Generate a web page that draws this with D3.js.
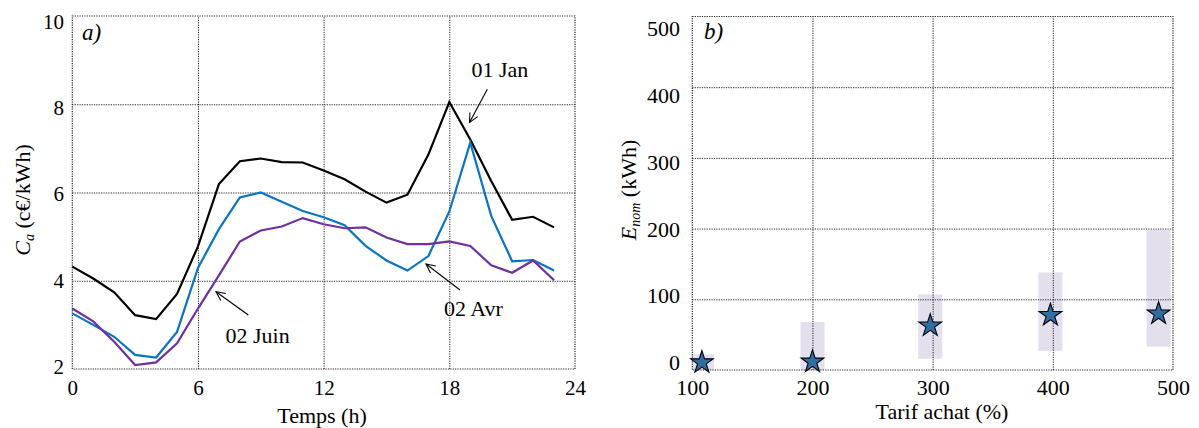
<!DOCTYPE html>
<html>
<head>
<meta charset="utf-8">
<script src="https://cdn.jsdelivr.net/npm/d3@7"></script>
</head>
<body style="margin:0">
<svg id="chart" width="1199" height="428"></svg>
<script>
// ---------- data: panel a ----------
const hours = d3.range(0, 24);
const jan01 = [4.32, 4.05, 3.74, 3.22, 3.13, 3.70, 4.78, 6.19, 6.71, 6.77, 6.69, 6.68,
               6.50, 6.30, 6.02, 5.77, 5.95, 6.86, 8.05, 7.20, 6.26, 5.38, 5.45, 5.21];
const avr02 = [3.26, 3.00, 2.73, 2.32, 2.26, 2.84, 4.29, 5.17, 5.89, 6.00, 5.79, 5.58,
               5.44, 5.26, 4.79, 4.46, 4.23, 4.56, 5.57, 7.13, 5.47, 4.44, 4.47, 4.23];
const juin02 = [3.37, 3.08, 2.62, 2.09, 2.15, 2.58, 3.37, 4.12, 4.89, 5.14, 5.23, 5.42,
                5.28, 5.19, 5.21, 4.98, 4.83, 4.83, 4.89, 4.79, 4.35, 4.18, 4.46, 4.01];
const seriesNames = ["01 Jan", "02 Avr", "02 Juin"];
const xTicksA = [0, 6, 12, 18, 24];
const yTicksA = [2, 4, 6, 8, 10];

// ---------- data: panel b ----------
const tarif = [108, 200, 298, 398, 488];
const enomMean = [12, 13, 64, 79, 81];
const enomLow = [-10, -10, 16, 27, 33];
const enomHigh = [22, 68, 107, 138, 198];
const xTicksB = [100, 200, 300, 400, 500];
const yTicksB = [0, 100, 200, 300, 400, 500];

const SERIF = '"Liberation Serif"';
const svg = d3.select("#chart");
const colors = { "01 Jan": "#000000", "02 Avr": "#0a74c4", "02 Juin": "#7030a0" };
const gridStyle = g => g.selectAll("line").attr("stroke", "#222").attr("stroke-width", 1).attr("stroke-dasharray", "1.2,1.2");
function addText(g, x, y, size, str) {
  return g.append("text").style("font-family", SERIF).attr("x", x).attr("y", y).attr("font-size", size).text(str);
}
function tickText(g, size) {
  g.attr("font-family", null);
  g.selectAll("text").style("font-family", SERIF).attr("font-size", size);
}

// ---------- panel a ----------
const A = { left: 72.3, right: 575, top: 16, bottom: 369 };
const xA = d3.scaleLinear().domain([0, 24]).range([A.left, A.right]);
const yA = d3.scaleLinear().domain([2, 10]).range([A.bottom, A.top]);
const yAlab = d3.scaleLinear().domain([2, 10]).range([366, 21]);

const gA = svg.append("g");
gA.append("g").attr("transform", `translate(0,${A.bottom})`)
  .call(d3.axisBottom(xA).tickValues(xTicksA.slice(1, -1)).tickSize(-(A.bottom - A.top)).tickFormat(""))
  .call(g => g.select(".domain").remove()).call(gridStyle);
gA.append("g").attr("transform", `translate(${A.left},0)`)
  .call(d3.axisLeft(yA).tickValues(yTicksA.slice(1, -1)).tickSize(-(A.right - A.left)).tickFormat(""))
  .call(g => g.select(".domain").remove()).call(gridStyle);
gA.append("rect").attr("x", A.left).attr("y", A.top)
  .attr("width", A.right - A.left).attr("height", A.bottom - A.top)
  .attr("fill", "none").attr("stroke", "#222").attr("stroke-width", 1.2).attr("stroke-dasharray", "1.2,1.2");

gA.append("g").attr("transform", `translate(0,${A.bottom})`)
  .call(d3.axisBottom(xA).tickValues(xTicksA).tickSize(0).tickPadding(0))
  .call(g => g.select(".domain").remove())
  .call(g => { tickText(g, 21); g.selectAll("text").attr("dy", "0").attr("y", 26); });
gA.append("g").attr("transform", `translate(64,0)`)
  .call(d3.axisLeft(yAlab).tickValues(yTicksA).tickSize(0).tickPadding(0))
  .call(g => g.select(".domain").remove())
  .call(g => { tickText(g, 21); g.selectAll("text").attr("dy", "0.35em"); });

const lineA = d3.line().x((d, i) => xA(hours[i])).y(d => yA(d));
[[jan01, "01 Jan"], [avr02, "02 Avr"], [juin02, "02 Juin"]].forEach(([vals, name]) => {
  gA.append("path").datum(vals).attr("d", lineA)
    .attr("fill", "none").attr("stroke", colors[name]).attr("stroke-width", 2.2);
});

function arrow(g, x1, y1, x2, y2) {
  g.append("line").attr("x1", x1).attr("y1", y1).attr("x2", x2).attr("y2", y2)
    .attr("stroke", "#000").attr("stroke-width", 1.1);
  const ang = Math.atan2(y2 - y1, x2 - x1);
  const L = 10, w = 0.45;
  const p1 = [x2 - L * Math.cos(ang - w), y2 - L * Math.sin(ang - w)];
  const p2 = [x2 - L * Math.cos(ang + w), y2 - L * Math.sin(ang + w)];
  g.append("path").attr("d", `M${p1[0]},${p1[1]}L${x2},${y2}L${p2[0]},${p2[1]}`)
    .attr("fill", "none").attr("stroke", "#000").attr("stroke-width", 1.1);
}
arrow(gA, 487.3, 89.3, 469.5, 122.5);
arrow(gA, 460, 290, 426, 264);
arrow(gA, 248.3, 315, 216, 291.7);
addText(gA, 471.5, 77, 22, seriesNames[0]);
addText(gA, 444, 316, 22, seriesNames[1]);
addText(gA, 225.5, 343, 22, seriesNames[2]);
addText(gA, 82, 40, 23, "a)").attr("font-style", "italic");

addText(gA, 322, 423, 22, "Temps (h)").attr("text-anchor", "middle");
const tA = addText(gA, 0, 0, 22, null).attr("transform", "translate(30,200) rotate(-90)").attr("text-anchor", "middle");
tA.append("tspan").attr("font-style", "italic").text("C");
tA.append("tspan").attr("font-style", "italic").attr("font-size", 14).attr("dy", 4).text("a");
tA.append("tspan").attr("dy", -4).text(" (c€/kWh)");

// ---------- panel b ----------
const B = { left: 692.3, right: 1173, top: 16.5, bottom: 370 };
const xB = d3.scaleLinear().domain([100, 500]).range([B.left, B.right]);
const yB = d3.scaleLinear().domain([0, 500]).range([B.bottom, B.top]);
const yBlab = d3.scaleLinear().domain([0, 500]).range([362, 28]);

const gB = svg.append("g");
svg.append("defs").append("clipPath").attr("id", "clipB")
  .append("rect").attr("x", B.left).attr("y", B.top).attr("width", B.right - B.left).attr("height", B.bottom - B.top);

gB.append("g").attr("clip-path", "url(#clipB)").selectAll("rect").data(tarif).join("rect")
  .attr("x", (d) => xB(d - 10))
  .attr("width", (d) => xB(d + 10) - xB(d - 10))
  .attr("y", (d, i) => yB(enomHigh[i]))
  .attr("height", (d, i) => yB(enomLow[i]) - yB(enomHigh[i]))
  .attr("fill", "#e3dfec");

gB.append("g").attr("transform", `translate(0,${B.bottom})`)
  .call(d3.axisBottom(xB).tickValues(xTicksB.slice(1, -1)).tickSize(-(B.bottom - B.top)).tickFormat(""))
  .call(g => g.select(".domain").remove()).call(gridStyle);
gB.append("g").attr("transform", `translate(${B.left},0)`)
  .call(d3.axisLeft(yB).tickValues(yTicksB.slice(1, -1)).tickSize(-(B.right - B.left)).tickFormat(""))
  .call(g => g.select(".domain").remove()).call(gridStyle);
gB.append("rect").attr("x", B.left).attr("y", B.top)
  .attr("width", B.right - B.left).attr("height", B.bottom - B.top)
  .attr("fill", "none").attr("stroke", "#222").attr("stroke-width", 1.2).attr("stroke-dasharray", "1.2,1.2");

gB.append("g").attr("transform", `translate(0,${B.bottom})`)
  .call(d3.axisBottom(xB).tickValues(xTicksB).tickSize(0).tickPadding(0))
  .call(g => g.select(".domain").remove())
  .call(g => { tickText(g, 22); g.selectAll("text").attr("dy", "0").attr("y", 25); });
gB.append("g").attr("transform", `translate(680,0)`)
  .call(d3.axisLeft(yBlab).tickValues(yTicksB).tickSize(0).tickPadding(0))
  .call(g => g.select(".domain").remove())
  .call(g => { tickText(g, 22); g.selectAll("text").attr("dy", "0.35em"); });

const star = d3.symbol().type(d3.symbolStar).size(160);
gB.append("g").selectAll("path").data(tarif).join("path")
  .attr("transform", (d, i) => `translate(${xB(d)},${yB(enomMean[i]) + 1})`)
  .attr("d", star)
  .attr("fill", "#2f6da3").attr("stroke", "#000").attr("stroke-width", 1.1);

addText(gB, 704, 39, 23, "b)").attr("font-style", "italic");
addText(gB, 942, 419, 22, "Tarif achat (%)").attr("text-anchor", "middle");
const tB = addText(gB, 0, 0, 22, null).attr("transform", "translate(636,190) rotate(-90)").attr("text-anchor", "middle");
tB.append("tspan").attr("font-style", "italic").text("E");
tB.append("tspan").attr("font-style", "italic").attr("font-size", 14).attr("dy", 4).text("nom");
tB.append("tspan").attr("dy", -4).text(" (kWh)");
</script>
</body>
</html>
